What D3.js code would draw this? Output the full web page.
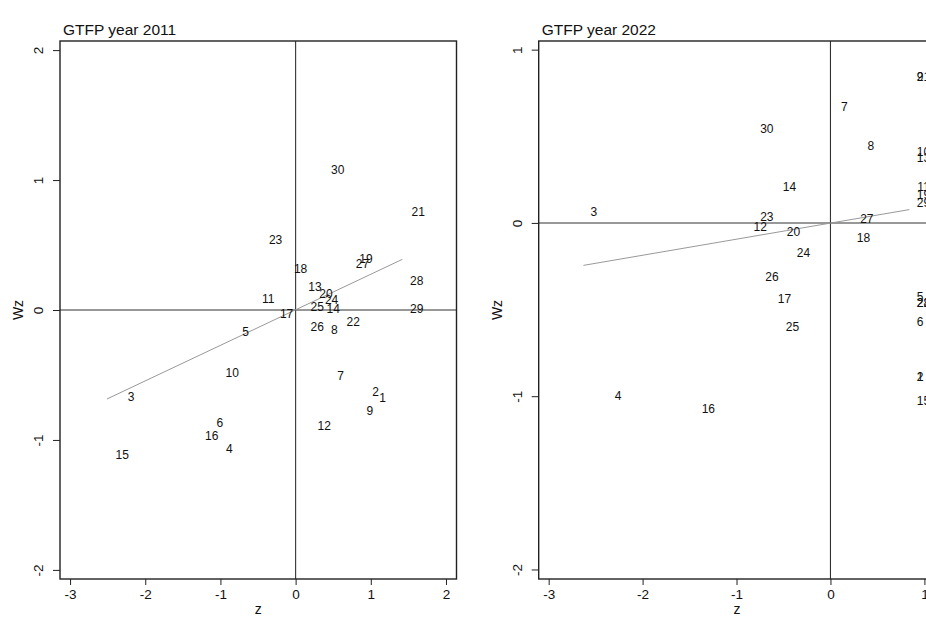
<!DOCTYPE html>
<html>
<head>
<meta charset="utf-8">
<script src="https://cdn.jsdelivr.net/npm/d3@7"></script>
<style>
  body { margin: 0; background: #fff; }
  svg { display: block; font-family: "Liberation Sans", Arial, sans-serif; }
</style>
</head>
<body>
<svg id="chart" width="926" height="633"></svg>
<script>
// region ids and Moran scatter values, 2011
const ids2011 = [1, 2, 3, 4, 5, 6, 7, 8, 9, 10, 11, 12, 13, 14, 15, 16, 17, 18, 19, 20, 21, 22, 23, 24, 25, 26, 27, 28, 29, 30];
const z2011  = [1.157, 1.064, -2.19, -0.883, -0.665, -1.007, 0.598, 0.514, 0.988, -0.843, -0.364, 0.38, 0.257, 0.5, -2.306, -1.117, -0.12, 0.066, 0.935, 0.403, 1.63, 0.766, -0.266, 0.479, 0.287, 0.287, 0.89, 1.61, 1.61, 0.56];
const wz2011 = [-0.679, -0.633, -0.671, -1.071, -0.167, -0.871, -0.507, -0.156, -0.776, -0.487, 0.085, -0.889, 0.179, 0.008, -1.112, -0.966, -0.033, 0.317, 0.392, 0.128, 0.753, -0.09, 0.538, 0.077, 0.025, -0.133, 0.354, 0.225, 0.01, 1.076];
const fitX2011 = [-2.51, 1.42];
const fitY2011 = [-0.685, 0.39];

// 2022
const ids2022 = [1, 2, 3, 4, 5, 6, 7, 8, 9, 10, 11, 12, 13, 14, 15, 16, 17, 18, 19, 20, 21, 22, 23, 24, 25, 26, 27, 28, 29, 30];
const z2022  = [0.954, 0.954, -2.52, -2.26, 0.954, 0.954, 0.149, 0.43, 0.954, 0.99, 0.99, -0.748, 0.99, -0.436, 0.99, -1.30, -0.489, 0.351, 0.99, -0.394, 0.99, 0.99, -0.677, -0.287, -0.404, -0.623, 0.387, 0.99, 0.99, -0.677];
const wz2022 = [-0.889, -0.889, 0.065, -1.0, -0.427, -0.572, 0.672, 0.445, 0.843, 0.41, 0.208, -0.021, 0.375, 0.206, -1.028, -1.07, -0.44, -0.085, 0.162, -0.052, 0.843, -0.462, 0.033, -0.171, -0.598, -0.31, 0.021, -0.462, 0.115, 0.543];
const fitX2022 = [-2.63, 0.84];
const fitY2022 = [-0.245, 0.077];

const xTicks2011 = [-3, -2, -1, 0, 1, 2];
const yTicks2011 = [-2, -1, 0, 1, 2];
const xTicks2022 = [-3, -2, -1, 0, 1];
const yTicks2022 = [-2, -1, 0, 1];

const svg = d3.select("#chart");
// plain hyphen for negatives, like the R original
const fmt = d => String(d);

function drawPanel(opt) {
    const x = d3.scaleLinear().domain(opt.xDomain).range([opt.left, opt.left + 396.5]);
    const y = d3.scaleLinear().domain(opt.yDomain).range([579, 41]);
    const g = svg.append("g");

    // reference lines at zero
    g.append("line")
        .attr("x1", x.range()[0]).attr("x2", x.range()[1])
        .attr("y1", y(0)).attr("y2", y(0))
        .attr("stroke", "#333").attr("stroke-width", 1.1);
    g.append("line")
        .attr("x1", x(0)).attr("x2", x(0))
        .attr("y1", 41).attr("y2", 579)
        .attr("stroke", "#333").attr("stroke-width", 1.1);

    // fitted line
    g.append("line")
        .attr("x1", x(opt.fitX[0])).attr("y1", y(opt.fitY[0]))
        .attr("x2", x(opt.fitX[1])).attr("y2", y(opt.fitY[1]))
        .attr("stroke", "#999").attr("stroke-width", 1);

    // point labels
    g.selectAll("text.pt")
        .data(opt.ids)
        .enter()
        .append("text")
        .attr("class", "pt")
        .attr("x", (d, i) => x(opt.z[i]))
        .attr("y", (d, i) => y(opt.wz[i]))
        .attr("dy", "0.35em")
        .attr("text-anchor", "middle")
        .attr("font-size", 12)
        .attr("fill", "#111")
        .text(d => d);

    // box
    g.append("rect")
        .attr("x", x.range()[0]).attr("y", 41)
        .attr("width", x.range()[1] - x.range()[0]).attr("height", 538)
        .attr("fill", "none").attr("stroke", "#222").attr("stroke-width", 1.4);

    // x axis
    const xa = g.append("g")
        .attr("transform", "translate(0,579)")
        .call(d3.axisBottom(x).tickValues(opt.xTicks).tickSize(6).tickPadding(4).tickFormat(fmt));
    xa.select(".domain").remove();
    xa.selectAll("line").attr("stroke", "#222");
    xa.selectAll("text").attr("font-size", 13.5).attr("fill", "#111")
        .attr("font-family", "Liberation Sans, Arial, sans-serif");

    // y axis, labels rotated as in R
    const ya = g.append("g")
        .attr("transform", `translate(${x.range()[0]},0)`)
        .call(d3.axisLeft(y).tickValues(opt.yTicks).tickSize(7).tickFormat(fmt));
    ya.select(".domain").remove();
    ya.selectAll("line").attr("stroke", "#222");
    ya.selectAll("text")
        .attr("font-size", 13.5).attr("fill", "#111")
        .attr("font-family", "Liberation Sans, Arial, sans-serif")
        .attr("x", null).attr("dy", null)
        .attr("text-anchor", "middle")
        .attr("transform", "translate(-17,0) rotate(-90)");

    // titles
    g.append("text")
        .attr("x", x.range()[0] + 3).attr("y", 35)
        .attr("font-size", 15.5).attr("fill", "#111")
        .text(opt.title);
    g.append("text")
        .attr("x", (x.range()[0] + x.range()[1]) / 2).attr("y", 614)
        .attr("text-anchor", "middle")
        .attr("font-size", 14).attr("fill", "#111")
        .text("z");
    g.append("text")
        .attr("transform", `translate(${x.range()[0] - 37},310) rotate(-90)`)
        .attr("text-anchor", "middle")
        .attr("font-size", 14).attr("fill", "#111")
        .text("Wz");
}

drawPanel({
    title: "GTFP year 2011", left: 60,
    xDomain: [-3.134, 2.14], yDomain: [-2.07, 2.07],
    xTicks: xTicks2011, yTicks: yTicks2011,
    ids: ids2011, z: z2011, wz: wz2011, fitX: fitX2011, fitY: fitY2011
});

drawPanel({
    title: "GTFP year 2022", left: 538.7,
    xDomain: [-3.106, 1.115], yDomain: [-2.055, 1.05],
    xTicks: xTicks2022, yTicks: yTicks2022,
    ids: ids2022, z: z2022, wz: wz2022, fitX: fitX2022, fitY: fitY2022
});
</script>
</body>
</html>
